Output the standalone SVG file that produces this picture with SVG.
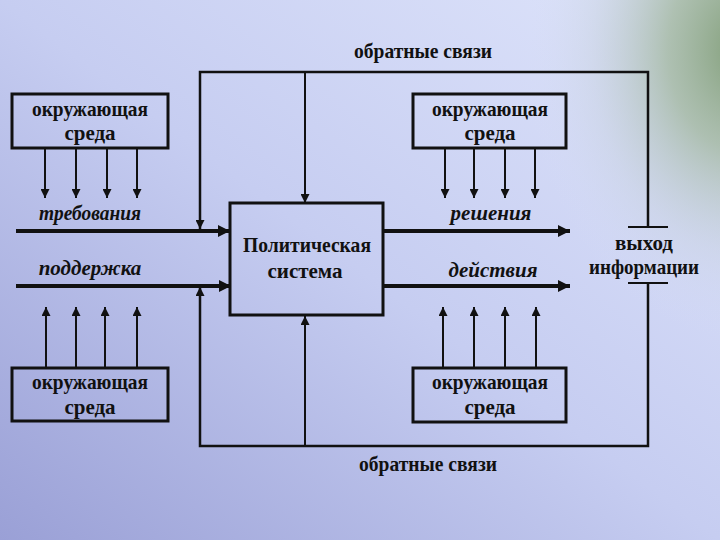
<svg xmlns="http://www.w3.org/2000/svg" width="720" height="540" viewBox="0 0 720 540">
<defs>
<linearGradient id="bg" x1="0" y1="1" x2="1" y2="0">
<stop offset="0" stop-color="#9aa0d6"/>
<stop offset="0.5" stop-color="#c6cdf1"/>
<stop offset="1" stop-color="#dfe5fb"/>
</linearGradient>
<radialGradient id="gr" cx="0" cy="0" r="1" gradientUnits="userSpaceOnUse" gradientTransform="translate(745,50) scale(220,290)">
<stop offset="0" stop-color="#7f9c76" stop-opacity="1"/>
<stop offset="0.35" stop-color="#9fb59a" stop-opacity="0.75"/>
<stop offset="0.7" stop-color="#c4cfd8" stop-opacity="0.35"/>
<stop offset="1" stop-color="#d8dff8" stop-opacity="0"/>
</radialGradient>
<marker id="a" viewBox="0 0 10 10" refX="10" refY="5" markerWidth="12" markerHeight="9" markerUnits="userSpaceOnUse" orient="auto">
<path d="M0,0 L10,5 L0,10 z" fill="#111"/>
</marker>
<marker id="A" viewBox="0 0 10 10" refX="10" refY="5" markerWidth="13" markerHeight="12" markerUnits="userSpaceOnUse" orient="auto">
<path d="M0,0 L10,5 L0,10 z" fill="#111"/>
</marker>
<style>
text{font-family:"Liberation Serif","DejaVu Serif",serif;font-weight:bold;font-size:21px;fill:#111;text-anchor:middle}
.i{font-style:italic}
.box{fill:none;stroke:#111;stroke-width:3}
.fb{fill:none;stroke:#111;stroke-width:2.5}
.s{stroke:#111;stroke-width:2;fill:none}
.h{stroke:#111;stroke-width:4;fill:none}
</style>
</defs>
<rect width="720" height="540" fill="url(#bg)"/>
<rect width="720" height="540" fill="url(#gr)"/>

<g id="env-top-left"><rect class="box" x="12" y="94" width="156" height="54"/><text x="90" y="116" textLength="116" lengthAdjust="spacingAndGlyphs">окружающая</text><text x="90" y="140">среда</text></g>
<g id="env-top-right"><rect class="box" x="413" y="94" width="153" height="54"/><text x="490" y="116" textLength="116" lengthAdjust="spacingAndGlyphs">окружающая</text><text x="490" y="140">среда</text></g>
<g id="env-bottom-left"><rect class="box" x="12" y="368" width="156" height="53"/><text x="90" y="389" textLength="116" lengthAdjust="spacingAndGlyphs">окружающая</text><text x="90" y="414">среда</text></g>
<g id="env-bottom-right"><rect class="box" x="413" y="368" width="153" height="54"/><text x="490" y="389" textLength="116" lengthAdjust="spacingAndGlyphs">окружающая</text><text x="490" y="414">среда</text></g>
<g id="system"><rect class="box" x="230" y="203" width="153" height="112"/><text x="307" y="252" textLength="128" lengthAdjust="spacingAndGlyphs">Политическая</text><text x="305" y="278">система</text></g>
<g id="output"><text x="644" y="250">выход</text><text x="644" y="274" textLength="110" lengthAdjust="spacingAndGlyphs">информации</text></g>
<g id="labels">
<text x="423" y="58" textLength="138" lengthAdjust="spacingAndGlyphs">обратные связи</text>
<text x="428" y="471" textLength="138" lengthAdjust="spacingAndGlyphs">обратные связи</text>
<text class="i" x="90" y="220" textLength="102" lengthAdjust="spacingAndGlyphs">требования</text>
<text class="i" x="90" y="275">поддержка</text>
<text class="i" x="491" y="220">решения</text>
<text class="i" x="493" y="277">действия</text>
</g>

<g id="connectors">
<path class="fb" d="M200,230 V72 H648 V227"/>
<path class="fb" d="M648,283 V446 H200 V288"/>
<path class="s" d="M628,227 H668 M628,283 H668"/>
<path class="s" d="M200,140 V229" marker-end="url(#a)"/>
<path class="s" d="M200,400 V287" marker-end="url(#a)"/>
<path class="s" d="M305,72 V203" marker-end="url(#a)"/>
<path class="s" d="M305,446 V316" marker-end="url(#a)"/>
<path class="h" d="M16,231 H230" marker-end="url(#A)"/>
<path class="h" d="M16,286 H231" marker-end="url(#A)"/>
<path class="h" d="M383,231 H570" marker-end="url(#A)"/>
<path class="h" d="M383,286 H570" marker-end="url(#A)"/>
<path class="s" d="M45,148 V198" marker-end="url(#a)"/>
<path class="s" d="M76,148 V198" marker-end="url(#a)"/>
<path class="s" d="M107,148 V198" marker-end="url(#a)"/>
<path class="s" d="M137,148 V198" marker-end="url(#a)"/>
<path class="s" d="M445,148 V198" marker-end="url(#a)"/>
<path class="s" d="M474,148 V198" marker-end="url(#a)"/>
<path class="s" d="M505,148 V198" marker-end="url(#a)"/>
<path class="s" d="M535,148 V198" marker-end="url(#a)"/>
<path class="s" d="M46,368 V307" marker-end="url(#a)"/>
<path class="s" d="M76,368 V307" marker-end="url(#a)"/>
<path class="s" d="M105,368 V307" marker-end="url(#a)"/>
<path class="s" d="M137,368 V307" marker-end="url(#a)"/>
<path class="s" d="M443,368 V307" marker-end="url(#a)"/>
<path class="s" d="M474,368 V307" marker-end="url(#a)"/>
<path class="s" d="M505,368 V307" marker-end="url(#a)"/>
<path class="s" d="M536,368 V307" marker-end="url(#a)"/>
</g>
</svg>
